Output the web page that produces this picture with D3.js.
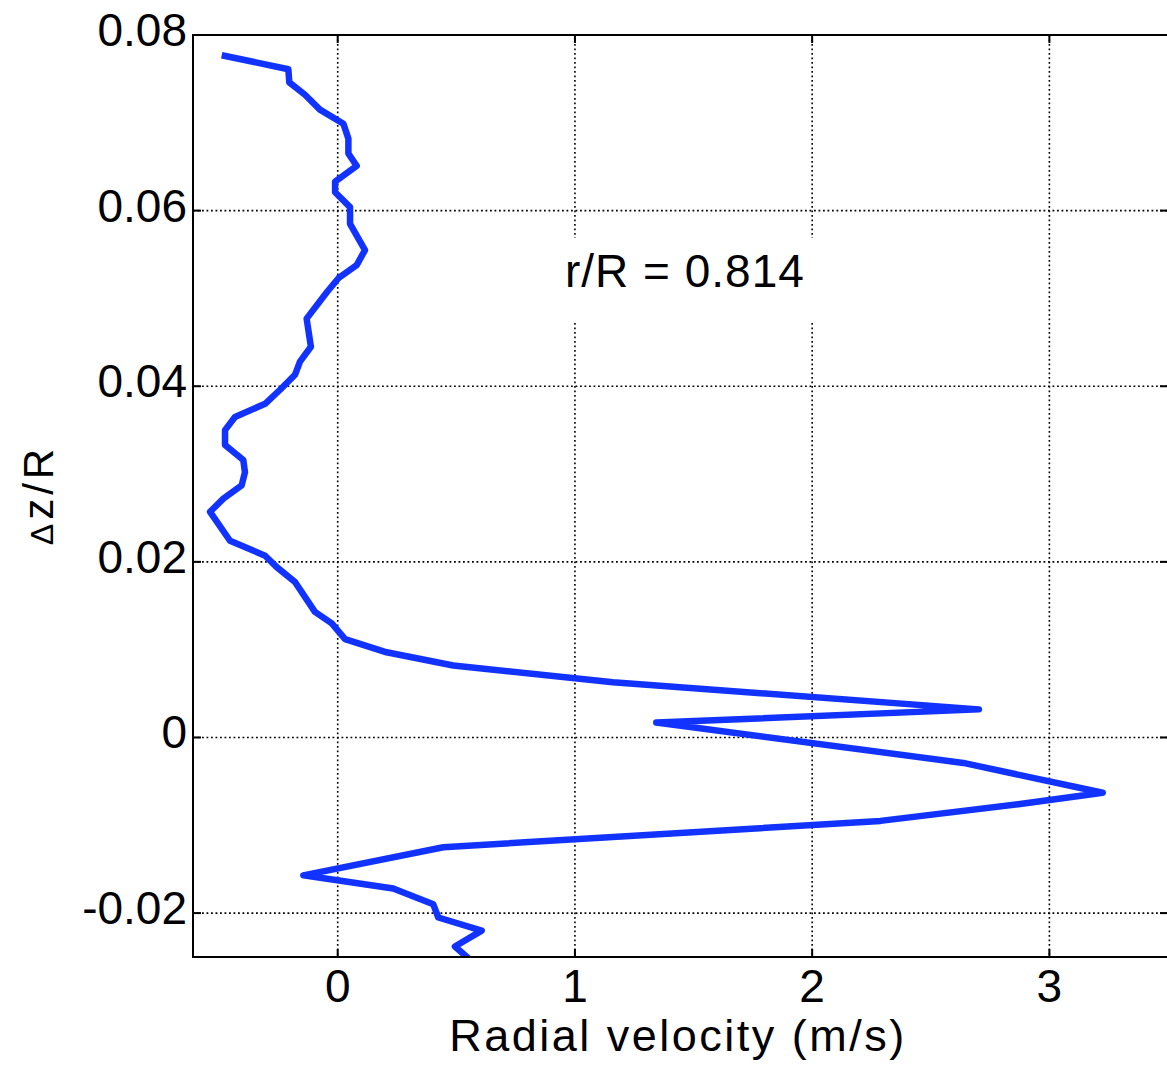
<!DOCTYPE html>
<html>
<head>
<meta charset="utf-8">
<script src="https://cdn.jsdelivr.net/npm/d3@7"></script>
<style>
  body { margin: 0; background: #fff; }
  text { font-family: "Liberation Sans", Arial, Helvetica, sans-serif; fill: #000; }
</style>
</head>
<body>
<div class="Canvas"></div>
<script>
// Profile: radial velocity (m/s) against dz/R.
const velocity = [-0.489, -0.208, -0.204, -0.138, -0.075, 0.024, 0.045, 0.045, 0.080, -0.011,
    -0.011, 0.052, 0.052, 0.115, 0.080, 0.003, -0.046, -0.131, -0.113, -0.159,
    -0.180, -0.243, -0.306, -0.433, -0.475, -0.475, -0.398, -0.391, -0.405, -0.482,
    -0.538, -0.454, -0.306, -0.257, -0.180, -0.096, -0.025, 0.031, 0.206, 0.487,
    1.160, 2.703, 1.343, 2.637, 3.225, 2.869, 2.288, 0.445, -0.145, 0.234,
    0.403, 0.424, 0.607, 0.494, 0.566];
const dz = [0.0777, 0.0761, 0.0746, 0.0732, 0.0715, 0.0699, 0.0682, 0.0665, 0.0651, 0.0633,
    0.0621, 0.0604, 0.0585, 0.0555, 0.0538, 0.0523, 0.0507, 0.0477, 0.0445, 0.0428,
    0.0413, 0.0396, 0.0380, 0.0365, 0.0350, 0.0333, 0.0316, 0.0302, 0.0287, 0.0272,
    0.0257, 0.0224, 0.0207, 0.0194, 0.0177, 0.0143, 0.0130, 0.0112, 0.0097, 0.0082,
    0.0063, 0.0032, 0.0017, -0.0029, -0.0063, -0.0076, -0.0095, -0.0125, -0.0157, -0.0172,
    -0.0190, -0.0205, -0.0220, -0.0238, -0.0255];

const xTicks = [0, 1, 2, 3];
const yTicks = [-0.02, 0, 0.02, 0.04, 0.06, 0.08];
const xLabel = 'Radial velocity (m/s)';
const annotation = 'r/R = 0.814';

const width = 1167, height = 1065;
const plotLeft = 193, plotRight = 1168, plotTop = 35, plotBottom = 957;
const tickLen = 8;

const svg = d3.select('.Canvas').append('svg')
    .attr('width', width)
    .attr('height', height);

const x = d3.scaleLinear().domain([-0.61, 3.5]).range([plotLeft, plotRight]);
const y = d3.scaleLinear().domain([-0.025, 0.08]).range([plotBottom, plotTop]);

// dotted grid
const grid = svg.append('g')
    .attr('stroke', '#000')
    .attr('stroke-width', 1.6)
    .attr('stroke-dasharray', '1.8,2.7');
grid.selectAll('line.gx').data(xTicks).enter().append('line')
    .attr('x1', (d) => x(d)).attr('x2', (d) => x(d))
    .attr('y1', plotTop).attr('y2', plotBottom);
grid.selectAll('line.gy').data(yTicks).enter().append('line')
    .attr('x1', plotLeft).attr('x2', plotRight)
    .attr('y1', (d) => y(d)).attr('y2', (d) => y(d));

// white box behind the annotation (it cuts the grid lines)
svg.append('rect')
    .attr('x', 545).attr('y', 238)
    .attr('width', 290).attr('height', 85)
    .attr('fill', '#fff');
svg.append('text')
    .attr('x', 565).attr('y', 287)
    .attr('font-size', '46px')
    .attr('letter-spacing', '1px')
    .text(annotation);

// the profile line
svg.append('clipPath').attr('id', 'plotClip')
    .append('rect')
    .attr('x', plotLeft).attr('y', plotTop)
    .attr('width', plotRight - plotLeft).attr('height', plotBottom - plotTop);

const line = d3.line()
    .x((d, i) => x(velocity[i]))
    .y((d) => y(d));

svg.append('path')
    .datum(dz)
    .attr('clip-path', 'url(#plotClip)')
    .attr('fill', 'none')
    .attr('stroke', '#1233ff')
    .attr('stroke-width', 6.5)
    .attr('stroke-linejoin', 'round')
    .attr('d', line);

// frame
svg.append('rect')
    .attr('x', plotLeft).attr('y', plotTop)
    .attr('width', plotRight - plotLeft).attr('height', plotBottom - plotTop)
    .attr('fill', 'none')
    .attr('stroke', '#000')
    .attr('stroke-width', 2);

// inward ticks on all four sides
const ticks = svg.append('g').attr('stroke', '#000').attr('stroke-width', 2);
xTicks.forEach((t) => {
    ticks.append('line').attr('x1', x(t)).attr('x2', x(t)).attr('y1', plotBottom).attr('y2', plotBottom - tickLen);
    ticks.append('line').attr('x1', x(t)).attr('x2', x(t)).attr('y1', plotTop).attr('y2', plotTop + tickLen);
});
yTicks.forEach((t) => {
    ticks.append('line').attr('x1', plotLeft).attr('x2', plotLeft + tickLen).attr('y1', y(t)).attr('y2', y(t));
    ticks.append('line').attr('x1', plotRight).attr('x2', plotRight - tickLen).attr('y1', y(t)).attr('y2', y(t));
});

// tick labels
svg.selectAll('text.xt').data(xTicks).enter().append('text')
    .attr('x', (d) => x(d))
    .attr('y', plotBottom + 45)
    .attr('text-anchor', 'middle')
    .attr('font-size', '46px')
    .text((d) => d);
svg.selectAll('text.yt').data(yTicks).enter().append('text')
    .attr('x', plotLeft - 6)
    .attr('y', (d) => y(d) + 11)
    .attr('text-anchor', 'end')
    .attr('font-size', '46px')
    .text((d) => (d == 0 ? '0' : d.toFixed(2)));

// axis titles
svg.append('text')
    .attr('x', 678).attr('y', 1051)
    .attr('text-anchor', 'middle')
    .attr('font-size', '45px')
    .attr('letter-spacing', '2.5px')
    .text(xLabel);

const yl = svg.append('text')
    .attr('transform', 'translate(53,495) rotate(-90)')
    .attr('text-anchor', 'middle')
    .attr('font-size', '42px')
    .attr('letter-spacing', '4px');
yl.append('tspan').attr('font-size', '32px').text('Δ');
yl.append('tspan').text('z/R');
</script>
</body>
</html>
